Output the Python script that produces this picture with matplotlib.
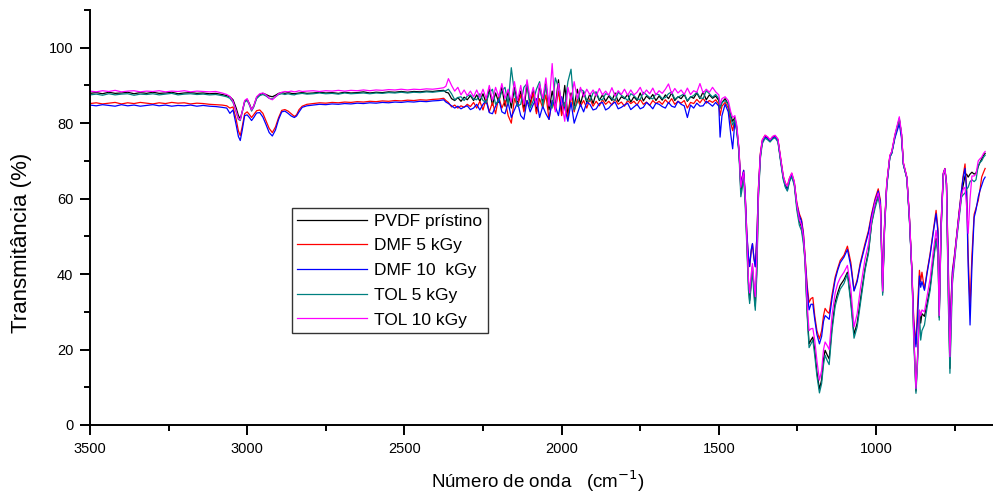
import numpy as np
import matplotlib.pyplot as plt
from matplotlib.ticker import MultipleLocator

plt.rcParams['font.family'] = ['Liberation Sans', 'DejaVu Sans']

# wavenumber grid (cm-1): C-H region, noisy region, fingerprint region
wn_ch = [3500, 3480, 3460, 3440, 3420, 3400, 3380, 3360, 3340, 3320,
         3300, 3280, 3260, 3240, 3220, 3200, 3180, 3160, 3140, 3120,
         3100, 3080, 3065, 3055, 3045, 3035, 3028, 3022, 3016, 3008,
         3000, 2993, 2986, 2979, 2970, 2960, 2950, 2940, 2930, 2920,
         2910, 2900, 2890, 2880, 2870, 2860, 2850, 2843, 2835, 2825,
         2810, 2790, 2770, 2750, 2730, 2710, 2690, 2670, 2650, 2630,
         2610, 2590, 2570, 2550, 2530, 2510, 2490, 2470, 2450, 2430,
         2410, 2390, 2375, 2368]
wn_ns = list(range(2360, 1500, -10))
wn_fp = [1500, 1496, 1490, 1480, 1470, 1462, 1456, 1449, 1443, 1436,
         1430, 1426, 1421, 1416, 1411, 1406, 1402, 1397, 1393, 1388,
         1384, 1379, 1374, 1368, 1362, 1353, 1345, 1337, 1329, 1321,
         1312, 1303, 1295, 1288, 1282, 1275, 1268, 1260, 1252, 1244,
         1237, 1231, 1226, 1219, 1213, 1207, 1201, 1195, 1188, 1180,
         1173, 1167, 1162, 1155, 1149, 1140, 1130, 1122, 1114, 1102,
         1091, 1080, 1070, 1060, 1050, 1035, 1024, 1014, 1003, 993,
         986, 979, 973, 966, 956, 950, 940, 926, 919, 913,
         902, 894, 886, 880, 873, 867, 862, 858, 854, 846,
         838, 828, 818, 809, 803, 799, 793, 786, 781, 776,
         770, 765, 761, 757, 750, 744, 736, 728, 723, 717,
         712, 707, 701, 695, 688, 682, 675, 670, 664, 658,
         653]
wn = np.array(wn_ch + wn_ns + wn_fp)

# transmittance (%)
pvdf = [
    87.9, 88.1, 87.8, 88.2, 87.9, 88.0, 88.2, 87.8, 88.1, 87.9, 88.2, 87.9, 88.0, 88.2, 87.8, 88.0, 88.1, 87.9, 88.0, 87.8,
    87.9, 87.6, 87.3, 87.0, 86.2, 84.0, 82.0, 81.2, 83.0, 85.8,
    86.3, 85.2, 83.6, 84.6, 86.8, 87.6, 87.9, 87.6, 87.2, 87.0,
    87.4, 87.9, 88.1, 87.9, 88.1, 87.9, 87.8, 87.9, 88.0, 88.1,
    87.9, 88.0, 88.2, 88.0, 88.1, 87.9, 88.2, 88.0, 88.1, 88.3,
    88.0, 88.2, 88.1, 88.3, 88.2, 88.4, 88.2, 88.4, 88.3, 88.5,
    88.4, 88.6, 88.7, 88.2,
    # noisy region
    88.0, 86.5, 86.0, 86.8, 85.8, 86.9, 86.2, 87.3, 86.0, 87.5,
    85.8, 87.8, 85.2, 89.0, 84.8, 88.0, 85.5, 89.5, 84.5, 88.5,
    84.0, 89.5, 85.5, 88.5, 83.5, 90.5, 85.0, 89.0, 83.0, 90.0,
    85.5, 90.5, 83.5, 88.5, 84.5, 91.5, 83.0, 90.0, 82.0, 88.0,
    84.5, 89.0, 85.0, 88.3, 85.5, 87.8, 85.2, 88.0, 86.0, 87.5,
    85.8, 87.2, 86.0, 88.0, 85.7, 87.0, 86.5, 87.6, 85.6, 87.0,
    86.0, 88.0, 85.9, 87.2, 86.4, 87.6, 86.0, 87.2, 86.1, 87.5,
    86.5, 88.0, 86.0, 87.0, 86.5, 87.6, 85.8, 87.0, 86.6, 88.0,
    86.5, 88.3, 86.2, 87.5, 86.6, 87.2,
    # fingerprint
    86.0, 84.0, 85.5, 86.5, 85.0, 82.0, 80.5, 81.5, 79.0, 73.0,
    62.0, 64.0, 66.5, 60.0, 49.0, 38.0, 33.0, 38.0, 42.0, 36.0,
    31.5, 42.0, 61.0, 71.0, 75.0, 76.5, 76.0, 75.3, 76.2, 76.5,
    75.5, 70.0, 65.5, 63.5, 62.5, 65.0, 66.3, 64.0, 58.0, 54.0,
    52.5, 49.0, 44.0, 30.0, 21.5, 22.5, 23.3, 20.0, 14.0, 9.5,
    12.0, 17.5, 19.8, 18.5, 17.5, 26.0, 32.5, 35.0, 37.0, 38.5,
    40.5, 33.0, 24.0, 27.0, 33.0, 41.5, 46.0, 53.5, 58.5, 61.0,
    58.0, 35.0, 52.0, 63.5, 71.2, 72.2, 76.5, 81.0, 77.0, 69.2,
    65.5, 55.0, 41.0, 24.0, 9.0, 20.0, 30.4, 27.0, 29.5, 28.8,
    32.0, 36.5, 44.0, 49.5, 46.0, 28.5, 52.0, 66.5, 67.8, 64.0,
    35.0, 15.0, 30.0, 39.0, 44.5, 49.5, 55.5, 61.0, 63.5, 66.0,
    66.5, 65.7, 66.5, 67.0, 66.5, 66.8, 68.5, 69.5, 70.5, 71.5,
    72.0]

dmf5 = [
    85.2, 85.4, 85.1, 85.3, 85.5, 85.1, 85.4, 85.2, 85.5, 85.3, 85.1, 85.4, 85.2, 85.5, 85.3, 85.4, 85.1, 85.3, 85.2, 85.0,
    84.9, 84.8, 84.6, 84.0, 84.3, 81.0, 78.0, 76.7, 79.0, 82.5,
    83.0, 82.3, 81.5, 82.3, 83.3, 83.5, 82.6, 80.6, 78.6, 77.5,
    79.0, 81.5, 83.4, 83.6, 83.2, 82.5, 81.8, 82.2, 83.6, 84.5,
    85.0, 85.2, 85.4, 85.3, 85.5, 85.4, 85.6, 85.5, 85.7, 85.6,
    85.8, 85.7, 85.9, 85.8, 86.0, 85.9, 86.1, 86.0, 86.2, 86.1,
    86.3, 86.4, 86.6, 86.0,
    # noisy region
    85.5, 84.3, 84.8, 84.0, 84.6, 84.2, 85.0, 84.4, 85.5, 84.0,
    85.8, 83.5, 86.5, 83.0, 85.5, 82.5, 87.0, 84.0, 86.0, 82.0,
    80.0, 86.5, 84.5, 87.5, 83.0, 86.0, 84.5, 88.0, 82.5, 86.5,
    84.0, 87.5, 81.0, 86.0, 83.5, 88.5, 82.0, 85.5, 81.5, 87.5,
    83.0, 86.5, 84.5, 86.0, 84.0, 86.5, 84.5, 85.8, 84.6, 86.2,
    85.0, 85.8, 84.8, 86.4, 85.0, 85.6, 84.5, 86.0, 85.2, 85.8,
    84.8, 86.3, 85.0, 85.6, 84.7, 86.0, 85.2, 85.8, 85.0, 86.2,
    85.3, 86.5, 85.0, 85.8, 85.3, 86.0, 84.0, 85.5, 85.2, 86.3,
    85.4, 86.6, 85.3, 86.0, 85.5, 86.2,
    # fingerprint
    85.0, 82.0, 84.5, 85.5, 84.0, 80.0, 78.0, 81.0, 78.5, 73.0,
    64.0, 65.5, 67.5, 61.0, 51.0, 44.0, 42.0, 46.0, 48.0, 44.0,
    42.0, 50.0, 63.0, 72.0, 75.5, 76.8, 76.3, 75.5, 76.4, 76.7,
    75.7, 70.5, 66.0, 64.0, 63.5, 65.5, 66.7, 64.5, 59.0, 56.0,
    54.5, 51.0, 45.0, 37.0, 32.5, 33.5, 33.8, 29.0, 25.0, 22.8,
    25.0, 29.0, 30.9, 30.0, 29.6, 34.5, 39.2, 41.5, 43.6, 45.0,
    47.4, 43.0, 35.7, 38.5, 43.0, 48.1, 51.5, 56.0, 60.0, 62.6,
    59.5, 37.0, 53.0, 64.0, 71.4, 72.4, 76.8, 81.0, 77.0, 69.5,
    65.7, 55.5, 41.0, 28.0, 21.5, 33.0, 41.0, 38.0, 40.5, 36.0,
    40.5, 45.4, 51.5, 56.9, 52.0, 31.0, 54.0, 66.8, 68.0, 64.3,
    42.0, 21.5, 34.0, 41.0, 45.5, 50.0, 56.5, 62.5, 66.0, 69.2,
    63.0, 45.0, 31.3, 45.0, 55.8, 57.5, 59.5, 62.0, 65.7, 67.0,
    68.0]

dmf10 = [
    84.8, 84.6, 84.9, 84.7, 84.5, 84.9, 84.6, 84.8, 84.5, 84.7, 84.9, 84.6, 84.8, 84.5, 84.7, 84.6, 84.8, 84.5, 84.7, 84.5,
    84.4, 84.2, 84.0, 82.6, 83.5, 79.5, 76.5, 75.4, 78.0, 82.0,
    82.2, 81.5, 80.7, 81.5, 82.7, 82.8, 81.6, 79.6, 77.5, 76.6,
    78.2, 81.0, 83.0, 83.2, 82.6, 81.9, 81.5, 81.9, 83.0, 84.2,
    84.6, 84.8, 85.0, 84.9, 85.1, 85.0, 85.2, 85.1, 85.3, 85.2,
    85.4, 85.3, 85.5, 85.4, 85.6, 85.5, 85.7, 85.6, 85.8, 85.7,
    85.9, 86.0, 86.2, 85.6,
    # noisy region
    85.2, 84.6, 84.0, 84.5, 83.8, 84.3, 84.6, 83.6, 84.0, 85.0,
    83.5, 85.0, 86.0, 82.8, 82.5, 84.5, 86.5, 83.0, 82.5, 85.5,
    81.5, 83.5, 85.5, 82.0, 81.0, 86.0, 83.0, 85.0, 86.5, 81.5,
    84.5, 82.5, 81.0, 86.0, 84.5, 82.0, 87.0, 84.0, 80.5, 85.5,
    80.0, 82.5, 85.0, 83.0, 85.5, 85.0, 83.5, 83.8, 85.2, 85.5,
    83.5, 84.0, 85.0, 85.6, 83.8, 84.2, 84.8, 85.3, 83.6, 84.3,
    85.0, 83.8, 84.2, 85.5, 84.8, 83.8, 85.3, 85.0, 84.4, 84.0,
    85.5, 84.5, 84.2, 85.8, 85.0, 84.6, 81.5, 84.8, 84.0, 85.3,
    84.5, 84.6, 85.8, 85.2, 84.5, 85.5,
    # fingerprint
    84.5, 76.3, 82.0, 85.0, 83.0, 77.0, 73.2, 80.5, 78.0, 72.5,
    63.5, 65.5, 67.5, 61.0, 51.0, 45.0, 42.0, 46.5, 48.1, 44.0,
    41.9, 50.0, 62.5, 71.5, 75.0, 76.3, 76.0, 75.2, 76.0, 76.4,
    75.3, 70.0, 65.5, 63.0, 62.2, 65.0, 66.2, 64.0, 58.5, 55.5,
    54.0, 50.5, 44.5, 36.0, 30.5, 32.0, 32.0, 28.0, 24.0, 21.5,
    23.5, 27.5, 29.0, 28.5, 28.0, 33.5, 38.5, 41.0, 43.0, 44.5,
    46.5, 42.0, 35.5, 38.0, 42.5, 47.5, 51.0, 55.5, 59.5, 62.0,
    59.0, 36.0, 52.5, 63.5, 71.0, 72.0, 76.0, 79.8, 76.0, 69.0,
    65.5, 55.0, 40.5, 27.0, 20.7, 30.0, 39.5, 36.5, 38.0, 35.7,
    40.0, 45.0, 51.0, 56.0, 51.0, 30.0, 53.5, 66.6, 67.9, 64.0,
    40.0, 20.7, 33.0, 40.5, 45.0, 49.8, 56.0, 62.2, 65.5, 68.0,
    62.0, 42.0, 26.5, 42.0, 55.0, 57.0, 60.4, 62.0, 63.5, 65.0,
    65.7]

tol5 = [
    87.5, 87.7, 87.4, 87.8, 87.5, 87.7, 87.8, 87.4, 87.7, 87.6, 87.8, 87.5, 87.7, 87.9, 87.5, 87.7, 87.8, 87.6, 87.7, 87.5,
    87.6, 87.3, 87.0, 86.6, 85.5, 83.0, 81.0, 80.7, 82.8, 85.6,
    86.0, 84.8, 83.2, 84.3, 86.5, 87.3, 87.6, 87.2, 86.6, 86.4,
    87.0, 87.6, 87.8, 87.6, 87.8, 87.6, 87.5, 87.7, 87.8, 87.9,
    87.7, 87.8, 88.0, 87.8, 87.9, 87.7, 88.0, 87.8, 87.9, 88.0,
    87.8, 88.0, 87.9, 88.1, 88.0, 88.2, 88.0, 88.2, 88.1, 88.3,
    88.2, 88.4, 88.5, 88.6,
    # noisy region
    89.0, 87.8, 86.2, 86.8, 87.0, 86.0, 87.2, 87.5, 86.4, 86.2,
    87.8, 86.0, 85.5, 88.0, 89.0, 85.0, 86.0, 88.5, 89.5, 85.0,
    94.7, 88.0, 84.5, 85.0, 89.5, 90.5, 84.0, 86.0, 89.0, 91.0,
    84.5, 90.0, 85.0, 84.0, 92.0, 89.5, 85.5, 84.5, 91.0, 94.3,
    83.5, 85.5, 89.0, 88.5, 86.0, 85.8, 88.0, 88.3, 86.3, 86.2,
    87.8, 87.5, 86.5, 86.0, 88.2, 87.4, 86.8, 86.0, 87.8, 87.3,
    86.4, 86.3, 88.2, 87.5, 86.8, 86.4, 87.8, 87.5, 86.5, 86.8,
    87.8, 88.3, 86.4, 86.9, 87.3, 87.8, 86.0, 86.9, 87.3, 88.2,
    86.8, 86.5, 88.6, 87.8, 86.9, 87.6,
    # fingerprint
    86.5, 84.0, 85.5, 86.0, 85.0, 81.5, 79.5, 81.0, 78.0, 72.0,
    60.5, 62.5, 65.5, 58.0, 47.5, 36.0, 32.2, 37.0, 41.0, 34.0,
    30.4, 40.0, 60.0, 70.5, 74.5, 76.0, 75.6, 75.0, 75.8, 76.1,
    75.0, 69.5, 65.0, 63.0, 62.0, 64.5, 65.8, 63.5, 57.0, 53.0,
    51.5, 48.0, 43.5, 29.0, 20.5, 21.5, 22.5, 18.5, 13.0, 8.5,
    11.0, 16.0, 18.5, 17.0, 16.0, 25.0, 31.5, 34.0, 36.0, 37.5,
    40.0, 32.0, 23.0, 26.0, 32.0, 41.0, 45.5, 53.4, 57.5, 60.4,
    57.0, 34.4, 51.5, 63.0, 71.0, 72.0, 76.5, 81.3, 77.0, 69.0,
    65.3, 54.5, 40.5, 22.0, 8.4, 18.0, 30.0, 22.5, 25.0, 26.5,
    31.0, 35.7, 43.0, 48.9, 45.0, 27.8, 51.5, 66.3, 67.6, 63.5,
    32.0, 13.7, 26.0, 37.5, 43.5, 48.8, 54.5, 60.4, 61.0, 61.5,
    62.5, 63.0, 64.5, 65.0, 64.5, 65.0, 68.7, 69.5, 70.0, 71.0,
    71.5]

tol10 = [
    88.5, 88.3, 88.6, 88.4, 88.7, 88.3, 88.5, 88.6, 88.3, 88.5, 88.4, 88.6, 88.3, 88.5, 88.4, 88.6, 88.3, 88.5, 88.4, 88.3,
    88.4, 88.0, 87.6, 87.1, 85.8, 83.2, 81.2, 80.9, 83.0, 86.0,
    86.5, 85.0, 83.5, 84.6, 87.0, 87.8, 88.0, 87.5, 86.6, 86.2,
    87.0, 87.8, 88.2, 88.4, 88.3, 88.5, 88.3, 88.4, 88.6, 88.4,
    88.5, 88.6, 88.4, 88.6, 88.5, 88.7, 88.5, 88.7, 88.6, 88.8,
    88.6, 88.8, 88.7, 88.9, 88.8, 89.0, 88.8, 89.0, 88.9, 89.1,
    89.0, 89.2, 89.4, 89.8,
    # noisy region
    91.8, 90.0, 88.5, 89.5, 87.5, 88.8, 87.3, 88.5, 87.0, 88.8,
    86.8, 89.0, 86.5, 90.0, 86.0, 89.5, 87.0, 90.5, 86.5, 89.0,
    85.5, 91.0, 86.0, 90.0, 85.0, 91.5, 86.5, 89.5, 84.5, 90.5,
    86.5, 92.0, 84.5, 95.8, 83.0, 90.5, 85.5, 80.5, 89.5, 86.0,
    91.0, 86.5, 89.5, 87.0, 89.0, 87.5, 88.8, 87.2, 89.2, 87.5,
    88.5, 87.4, 89.4, 87.2, 88.6, 87.6, 89.0, 87.4, 88.8, 87.5,
    88.2, 89.5, 87.6, 88.8, 87.8, 89.3, 87.5, 88.6, 87.9, 89.0,
    90.4, 87.8, 89.2, 88.0, 88.8, 87.6, 89.3, 87.6, 88.6, 88.2,
    90.5, 88.0, 89.0, 88.2, 89.5, 88.3,
    # fingerprint
    87.5, 85.0, 86.5, 87.0, 86.0, 83.0, 81.5, 82.0, 79.5, 73.5,
    63.0, 65.0, 67.0, 60.5, 49.5, 39.0, 35.0, 40.0, 42.8, 37.5,
    34.0, 45.0, 62.2, 71.5, 75.5, 76.8, 76.4, 75.6, 76.5, 76.8,
    75.8, 70.5, 66.0, 64.0, 63.3, 65.5, 66.8, 64.5, 58.5, 54.5,
    53.0, 50.0, 44.5, 32.0, 25.0, 25.5, 25.6, 22.5, 17.0, 11.9,
    14.5, 20.0, 22.0, 21.0, 20.0, 29.0, 35.0, 37.5, 39.0, 40.5,
    42.3, 36.0, 26.0, 29.5, 36.0, 44.0, 48.0, 54.5, 59.0, 61.5,
    58.0, 35.5, 52.5, 64.0, 71.5, 72.5, 77.0, 81.7, 77.5, 69.5,
    65.7, 55.5, 41.0, 24.0, 9.7, 19.0, 30.4, 29.0, 30.5, 30.0,
    34.0, 38.8, 46.0, 51.6, 47.0, 29.0, 53.0, 66.6, 67.9, 64.0,
    37.0, 18.1, 30.0, 39.0, 44.5, 49.5, 55.5, 61.0, 62.5, 63.0,
    58.0, 50.8, 60.0, 66.0, 66.0, 66.5, 70.0, 70.5, 71.0, 72.0,
    72.5]

labels = ['PVDF prístino', 'DMF 5 kGy', 'DMF 10  kGy', 'TOL 5 kGy', 'TOL 10 kGy']
colors = ['black', 'red', 'blue', '#008080', 'magenta']
series = [pvdf, dmf5, dmf10, tol5, tol10]

fig = plt.figure(figsize=(9.93, 4.92), dpi=100)
ax = fig.add_axes([0.0906, 0.1362, 0.9094, 0.8435])

for y, c, lab in zip(series, colors, labels):
    ax.plot(wn, y, color=c, lw=0.9, label=lab)

ax.set_xlim(3500, 628)
ax.set_ylim(0, 110)
ax.xaxis.set_major_locator(MultipleLocator(500))
ax.xaxis.set_minor_locator(MultipleLocator(250))
ax.yaxis.set_major_locator(MultipleLocator(20))
ax.yaxis.set_minor_locator(MultipleLocator(10))

for s in ['top', 'right']:
    ax.spines[s].set_visible(False)
for s in ['left', 'bottom']:
    ax.spines[s].set_linewidth(1.4)
ax.tick_params(which='major', direction='out', length=7, width=1.4, labelsize=10.5, pad=5)
ax.tick_params(which='minor', direction='out', length=4, width=1.4)

fig.text(0.022, 0.506, 'Transmitância (%)', rotation=90, ha='center', va='center', fontsize=16)
fig.text(0.542, 0.022, 'Número de onda   (cm$^{-1}$)', ha='center', va='center', fontsize=13.5)

leg = ax.legend(loc='upper left', bbox_to_anchor=(0.2237, 0.522), fontsize=12.5,
                frameon=True, fancybox=False, borderaxespad=0, borderpad=0.3,
                labelspacing=0.55, handlelength=4.0, handletextpad=0.45)
leg.get_frame().set_edgecolor('black')
leg.get_frame().set_linewidth(1.0)

fig.savefig('out.png', dpi=100)
